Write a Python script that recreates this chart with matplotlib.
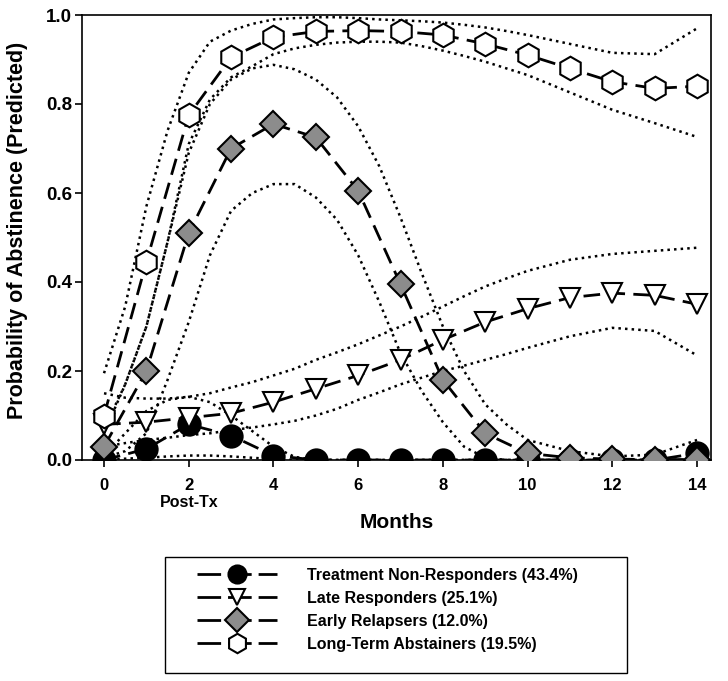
import matplotlib
matplotlib.use("Agg")
import matplotlib.pyplot as plt
from matplotlib.lines import Line2D
from matplotlib.patches import Rectangle

plt.rcParams["font.family"] = ["Liberation Sans", "DejaVu Sans"]
plt.rcParams["font.weight"] = "bold"

# -----------------------------
# Data
# -----------------------------
months = [0, 1, 2, 3, 4, 5, 6, 7, 8, 9, 10, 11, 12, 13, 14]

non_resp = [0.0, 0.025, 0.08, 0.055, 0.01, 0.0, 0.0, 0.0, 0.0, 0.0, 0.0, 0.0, 0.0, 0.0, 0.015]
late_resp = [0.08, 0.085, 0.095, 0.105, 0.13, 0.16, 0.19, 0.225, 0.27, 0.31, 0.34, 0.365, 0.375, 0.37, 0.35]
early_rel = [0.03, 0.2, 0.51, 0.70, 0.755, 0.725, 0.605, 0.395, 0.18, 0.06, 0.015, 0.005, 0.002, 0.001, 0.001]
long_abst = [0.10, 0.445, 0.775, 0.905, 0.95, 0.963, 0.965, 0.963, 0.955, 0.935, 0.91, 0.88, 0.85, 0.835, 0.84]

# confidence bands (dotted), read at half-month steps up to month 10
band_months = [0, 0.5, 1, 1.5, 2, 2.5, 3, 3.5, 4, 4.5, 5, 5.5, 6, 6.5, 7, 7.5,
               8, 8.5, 9, 9.5, 10, 11, 12, 13, 14]

non_resp_hi = [0.01, 0.06, 0.11, 0.135, 0.142, 0.13, 0.10, 0.065, 0.03, 0.007, 0.0, 0.0, 0.0,
               0.0, 0.0, 0.0, 0.0, 0.0, 0.0, 0.0, 0.0, 0.0, 0.0, 0.0, 0.0]
non_resp_lo = [0.0, 0.003, 0.005, 0.008, 0.01, 0.01, 0.008, 0.005, 0.002, 0.0, 0.0, 0.0, 0.0,
               0.0, 0.0, 0.0, 0.0, 0.0, 0.0, 0.0, 0.0, 0.0, 0.0, 0.0, 0.0]
late_resp_hi = [0.15, 0.14, 0.138, 0.138, 0.142, 0.15, 0.163, 0.175, 0.19, 0.205, 0.225, 0.242, 0.26,
                0.28, 0.30, 0.322, 0.345, 0.368, 0.39, 0.408, 0.425, 0.45, 0.463, 0.47, 0.477]
late_resp_lo = [0.03, 0.038, 0.045, 0.05, 0.056, 0.06, 0.067, 0.073, 0.08, 0.088, 0.10, 0.115, 0.135,
                0.152, 0.17, 0.185, 0.20, 0.212, 0.225, 0.238, 0.252, 0.278, 0.297, 0.29, 0.235]
early_rel_hi = [0.06, 0.17, 0.30, 0.49, 0.69, 0.80, 0.855, 0.88, 0.888, 0.878, 0.855, 0.815, 0.75,
                0.66, 0.545, 0.42, 0.30, 0.20, 0.125, 0.08, 0.045, 0.02, 0.008, 0.012, 0.045]
early_rel_lo = [0.005, 0.02, 0.06, 0.18, 0.31, 0.46, 0.56, 0.60, 0.62, 0.62, 0.59, 0.54, 0.46,
                0.355, 0.24, 0.155, 0.085, 0.03, 0.005, 0.0, 0.0, 0.0, 0.0, 0.0, 0.0]
long_abst_hi = [0.195, 0.345, 0.57, 0.74, 0.87, 0.94, 0.965, 0.98, 0.99, 0.993, 0.995, 0.995, 0.993,
                0.99, 0.988, 0.986, 0.983, 0.978, 0.972, 0.964, 0.955, 0.935, 0.915, 0.912, 0.97]
long_abst_lo = [0.07, 0.17, 0.30, 0.49, 0.71, 0.81, 0.86, 0.885, 0.912, 0.925, 0.933, 0.938, 0.94,
                0.94, 0.938, 0.93, 0.92, 0.908, 0.895, 0.88, 0.865, 0.826, 0.787, 0.757, 0.726]

labels = ["Treatment Non-Responders (43.4%)", "Late Responders (25.1%)",
          "Early Relapsers (12.0%)", "Long-Term Abstainers (19.5%)"]

xticks = [0, 2, 4, 6, 8, 10, 12, 14]
yticks = [0.0, 0.2, 0.4, 0.6, 0.8, 1.0]

# -----------------------------
# Plot
# -----------------------------
W, H = 728, 681
fig = plt.figure(figsize=(W / 100, H / 100), dpi=100)
ax = fig.add_axes([82 / W, 1 - 460 / H, (711 - 82) / W, (460 - 15) / H])

dot = dict(color="black", linestyle=":", linewidth=1.8, zorder=1)
for band in [non_resp_hi, non_resp_lo, late_resp_hi, late_resp_lo,
             early_rel_hi, early_rel_lo, long_abst_hi, long_abst_lo]:
    ax.plot(band_months, band, **dot)

series = [non_resp, late_resp, early_rel, long_abst]
markers = ["o", "v", "D", "h"]
faces = ["black", "white", "#8c8c8c", "white"]
sizes = [16, 15, 13, 17]
leg_sizes = [13, 12, 12, 14]

handles = []
for vals, m, fc, ms, lms, lab in zip(series, markers, faces, sizes, leg_sizes, labels):
    ax.plot(months, vals, color="black", linewidth=2, dashes=(6, 3),
            marker=m, markersize=ms, markerfacecolor=fc,
            markeredgecolor="black", markeredgewidth=1.5, zorder=3)
    handles.append(Line2D([0], [0], color="black", linewidth=2, dashes=(8.5, 2.5),
                          marker=m, markersize=lms, markerfacecolor=fc,
                          markeredgecolor="black", markeredgewidth=1.5, label=lab))

ax.set_xlim(-0.52, 14.33)
ax.set_ylim(0, 1.0)
ax.set_xticks(xticks)
ax.set_yticks(yticks)
ax.set_yticklabels([f"{v:.1f}" for v in yticks])
ax.tick_params(direction="out", length=5, width=1.2)
ax.tick_params(axis="x", labelsize=12, pad=8)
ax.tick_params(axis="y", labelsize=13.5, pad=2)
for s in ax.spines.values():
    s.set_linewidth(1.2)

ax.set_xlabel("Months", fontsize=15, fontweight="bold", labelpad=14)
ax.set_ylabel("Probability of Abstinence (Predicted)", fontsize=15.5, fontweight="bold")
ax.yaxis.set_label_coords(-0.086, 0.517)
ax.text(2, -0.095, "Post-Tx", ha="center", va="center", fontsize=11.5,
        fontweight="bold", clip_on=False)

# legend box drawn separately so padding can match
fig.patches.append(Rectangle((165 / W, 1 - 673 / H), (627 - 165) / W, (673 - 557) / H,
                             transform=fig.transFigure, fill=False,
                             edgecolor="black", linewidth=1.0))
leg = fig.legend(handles=handles, loc="upper left",
                 bbox_to_anchor=(197 / W, 1 - 568 / H),
                 frameon=False, handlelength=5.0, handletextpad=1.9,
                 borderpad=0, labelspacing=0.5, fontsize=11.5, borderaxespad=0)
for t in leg.get_texts():
    t.set_fontweight("bold")

fig.savefig("out.png", dpi=100)
